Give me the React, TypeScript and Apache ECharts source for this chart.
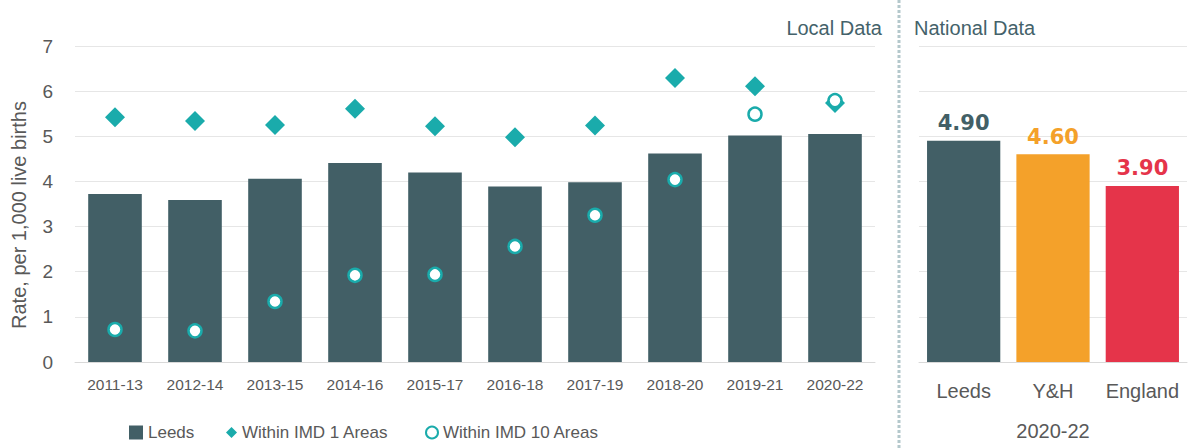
import React, { useEffect, useRef } from "react";
import * as echarts from "echarts";

const periods = ["2011-13", "2012-14", "2013-15", "2014-16", "2015-17", "2016-18", "2017-19", "2018-20", "2019-21", "2020-22"];
const leedsRate = [3.72, 3.59, 4.06, 4.41, 4.2, 3.89, 3.98, 4.62, 5.02, 5.05];
const imd1Rate = [5.42, 5.34, 5.25, 5.61, 5.22, 4.98, 5.24, 6.29, 6.11, 5.74];
const imd10Rate = [0.72, 0.69, 1.34, 1.92, 1.94, 2.56, 3.25, 4.04, 5.49, 5.79];
const nationalAreas = ["Leeds", "Y&H", "England"];
const nationalRate = [4.9, 4.6, 3.9];
const nationalColors = ["#425F66", "#F4A12A", "#E5344A"];

const FONT = "Liberation Sans";
const BAR = "#425F66";
const TEAL = "#1AABAB";
const GREY = "#595959";

const legendText = { fontSize: 17, color: GREY, fontFamily: FONT };

export default function App() {
  const ref = useRef<HTMLDivElement>(null);
  useEffect(() => {
    document.body.style.margin = "0";
    const chart = echarts.init(ref.current!, null, { renderer: "svg" });
    chart.setOption({
      animation: false,
      textStyle: { fontFamily: FONT },
      grid: [
        { left: 75, right: 316, top: 46, bottom: 86, outerBoundsMode: "none" },
        { left: 919, right: 4, top: 46, bottom: 86, outerBoundsMode: "none" },
      ],
      legend: [
        {
          top: 424,
          left: 129,
          padding: 0,
          itemWidth: 14,
          itemHeight: 14,
          textStyle: legendText,
          data: [{ name: "Leeds", icon: "rect", itemStyle: { color: BAR } }],
        },
        {
          top: 424,
          left: 226,
          padding: 0,
          itemWidth: 11,
          itemHeight: 11,
          textStyle: legendText,
          data: [{ name: "Within IMD 1 Areas", icon: "diamond", itemStyle: { color: TEAL } }],
        },
        {
          top: 424,
          left: 425,
          padding: 0,
          itemWidth: 12,
          itemHeight: 12,
          textStyle: legendText,
          data: [
            { name: "Within IMD 10 Areas", icon: "circle", itemStyle: { color: "#fff", borderColor: TEAL, borderWidth: 2 } },
          ],
        },
      ],
      xAxis: [
        {
          type: "category",
          gridIndex: 0,
          data: periods,
          axisLine: { lineStyle: { color: "#D9D9D9" } },
          axisTick: { show: false },
          axisLabel: { fontSize: 15.5, color: GREY, margin: 14, interval: 0 },
        },
        {
          type: "category",
          gridIndex: 1,
          data: nationalAreas,
          axisLine: { lineStyle: { color: "#D9D9D9" } },
          axisTick: { show: false },
          axisLabel: { fontSize: 20, color: GREY, margin: 19, interval: 0 },
          name: "2020-22",
          nameLocation: "middle",
          nameGap: 59,
          nameTextStyle: { fontSize: 20, color: GREY },
        },
      ],
      yAxis: [
        {
          type: "value",
          gridIndex: 0,
          min: 0,
          max: 7,
          interval: 1,
          splitLine: { lineStyle: { color: "#E6E6E6" } },
          axisLabel: { fontSize: 19, color: GREY, margin: 22 },
        },
        {
          type: "value",
          gridIndex: 1,
          min: 0,
          max: 7,
          interval: 1,
          splitLine: { lineStyle: { color: "#E6E6E6" } },
          axisLabel: { show: false },
        },
      ],
      series: [
        {
          name: "Leeds",
          type: "bar",
          xAxisIndex: 0,
          yAxisIndex: 0,
          data: leedsRate,
          barWidth: "67%",
          itemStyle: { color: BAR },
        },
        {
          name: "Within IMD 1 Areas",
          type: "scatter",
          xAxisIndex: 0,
          yAxisIndex: 0,
          data: imd1Rate,
          symbol: "diamond",
          symbolSize: 20,
          itemStyle: { color: TEAL, opacity: 1 },
        },
        {
          name: "Within IMD 10 Areas",
          type: "scatter",
          xAxisIndex: 0,
          yAxisIndex: 0,
          data: imd10Rate,
          symbol: "circle",
          symbolSize: 13,
          itemStyle: { color: "#fff", borderColor: TEAL, borderWidth: 2.5, opacity: 1 },
        },
        {
          name: "National",
          type: "bar",
          xAxisIndex: 1,
          yAxisIndex: 1,
          barWidth: "82%",
          data: nationalRate.map((v, i) => ({
            value: v,
            itemStyle: { color: nationalColors[i] },
            label: { color: nationalColors[i] },
          })),
          label: {
            show: true,
            position: "top",
            distance: 7,
            fontSize: 21,
            fontWeight: "bold",
            fontFamily: "DejaVu Sans",
            formatter: (p: any) => Number(p.value).toFixed(2),
          },
        },
      ],
      graphic: [
        {
          type: "line",
          shape: { x1: 899, y1: 0, x2: 899, y2: 448 },
          style: { stroke: "#B4C8CC", lineWidth: 3, lineDash: [3, 2] },
        },
        {
          type: "text",
          x: 19,
          y: 215,
          rotation: Math.PI / 2,
          style: {
            text: "Rate, per 1,000 live births",
            fill: GREY,
            fontSize: 20,
            fontFamily: FONT,
            align: "center",
            verticalAlign: "middle",
          },
        },
        {
          type: "text",
          x: 882,
          y: 28,
          style: { text: "Local Data", fill: "#44626A", fontSize: 20, fontFamily: FONT, align: "right", verticalAlign: "middle" },
        },
        {
          type: "text",
          x: 914,
          y: 28,
          style: { text: "National Data", fill: "#44626A", fontSize: 20, fontFamily: FONT, align: "left", verticalAlign: "middle" },
        },
      ],
    });
    return () => chart.dispose();
  }, []);
  return <div ref={ref} style={{ width: 1191, height: 448 }} />;
}
